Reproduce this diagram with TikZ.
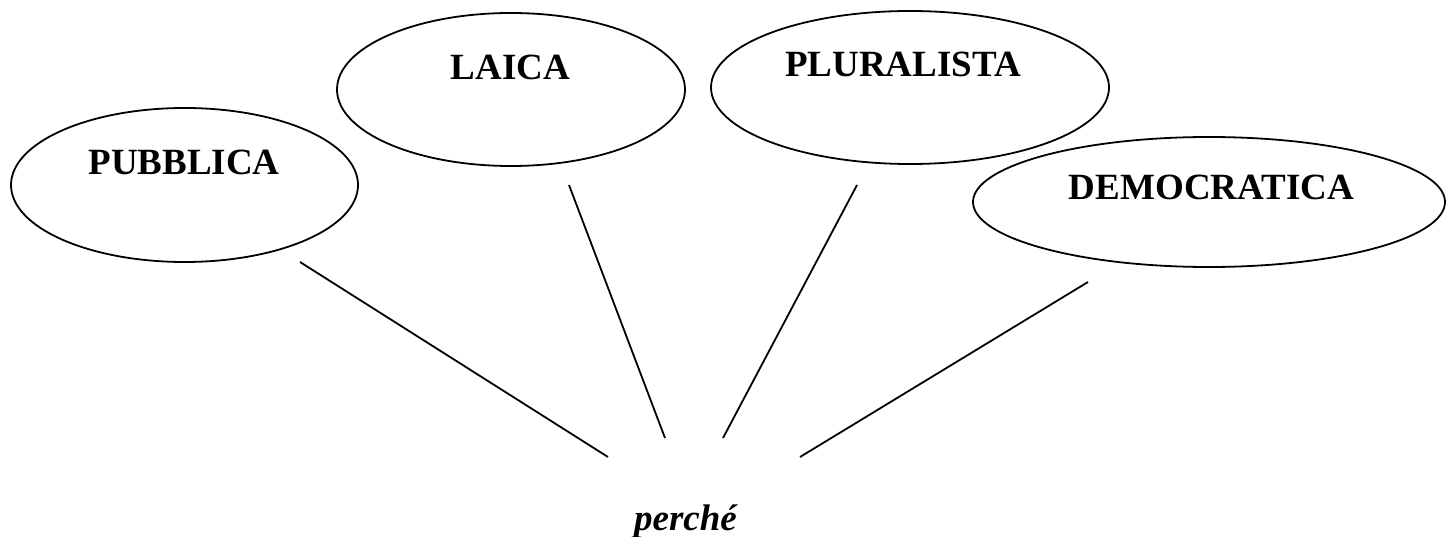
\documentclass[tikz,border=0pt]{standalone}
\usepackage{fontspec}
\setmainfont{Liberation Serif}
\usetikzlibrary{shapes.geometric}
\tikzset{
  oval/.style={ellipse, draw, line width=1.8pt, inner sep=0pt},
  word/.style={anchor=base, inner sep=0pt, font=\fontsize{37}{44}\selectfont\bfseries},
  spoke/.style={line width=1.8pt}
}
\begin{document}
\begin{tikzpicture}[x=1pt,y=-1pt]
\useasboundingbox (0,0) rectangle (1447,537);
% ellipses
\node[oval, minimum width=347pt, minimum height=154pt] (pub) at (184.5,185) {};
\node[oval, minimum width=348pt, minimum height=153pt] (lai) at (511,89.5) {};
\node[oval, minimum width=398pt, minimum height=153pt] (plu) at (910,87.5) {};
\node[oval, minimum width=472pt, minimum height=130pt] (dem) at (1209,202) {};
% labels
\node[word] (tpub) at (184,175) {PUBBLICA};
\node[word] (tlai) at (510.5,80) {LAICA};
\node[word] (tplu) at (903,77) {PLURALISTA};
\node[word] (tdem) at (1211.5,200) {DEMOCRATICA};
\node[word, font=\fontsize{37}{44}\selectfont\bfseries\itshape] (why) at (685.5,530) {perché};
% spoke ends
\coordinate (s1) at (300,262);
\coordinate (e1) at (608,457);
\coordinate (s2) at (569,185);
\coordinate (e2) at (665,438);
\coordinate (s3) at (857,185);
\coordinate (e3) at (723,438);
\coordinate (s4) at (1088,282);
\coordinate (e4) at (800,457);
\draw[spoke] (s1) -- (e1);
\draw[spoke] (s2) -- (e2);
\draw[spoke] (s3) -- (e3);
\draw[spoke] (s4) -- (e4);
\end{tikzpicture}
\end{document}
